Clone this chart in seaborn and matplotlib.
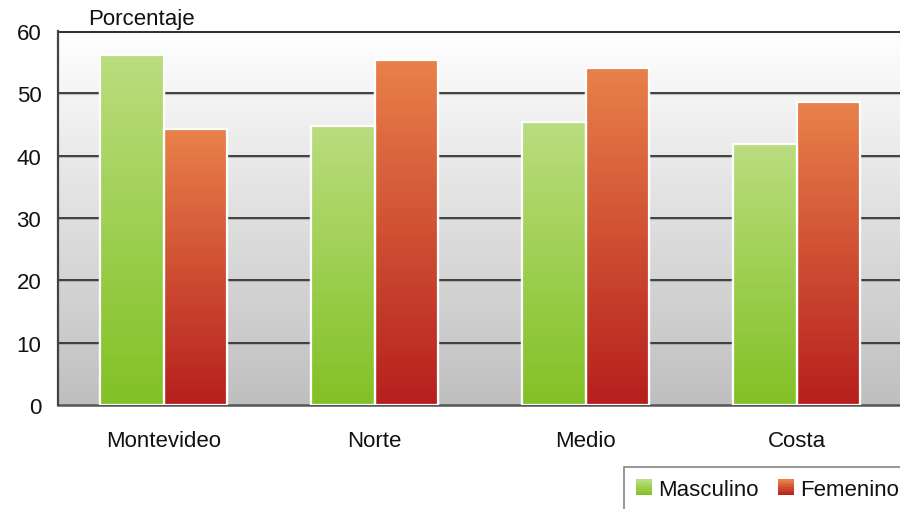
import numpy as np
import pandas as pd
import matplotlib
matplotlib.use("Agg")
import matplotlib.pyplot as plt
from matplotlib.colors import LinearSegmentedColormap, to_rgb
from matplotlib.patches import Rectangle
from matplotlib.legend_handler import HandlerBase
import seaborn as sns

regiones = ["Montevideo", "Norte", "Medio", "Costa"]
masculino = [56.2, 44.8, 45.4, 41.8]
femenino = [44.2, 55.4, 54.1, 48.6]
series = ["Masculino", "Femenino"]
yticks = [0, 10, 20, 30, 40, 50, 60]

# top / bottom colours of each series gradient
grad = {
    "Masculino": ("#badd7e", "#82c125"),
    "Femenino": ("#e9814a", "#b61f1d"),
}

df = pd.DataFrame({
    "region": regiones * 2,
    "sexo": [series[0]] * 4 + [series[1]] * 4,
    "valor": masculino + femenino,
})

sns.set_theme(style="white")
plt.rcParams["font.family"] = ["Liberation Sans", "DejaVu Sans"]

FS = 16

fig = plt.figure(figsize=(9, 5.1), dpi=100)
ax = fig.add_axes([58 / 900, 1 - 406 / 510, 844 / 900, 374 / 510])

sns.barplot(data=df, x="region", y="valor", hue="sexo", hue_order=series,
            order=regiones, width=0.6, gap=0, ax=ax, legend=False,
            palette={k: v[1] for k, v in grad.items()},
            edgecolor="white", linewidth=1.6, zorder=3)

ax.set_xlim(-0.5, 3.5)
ax.set_ylim(0, 60)

# vertical gradient background of the plotting area
bg = np.linspace(1.0, 0.0, 256).reshape(-1, 1)
bg_cmap = LinearSegmentedColormap.from_list("bg", ["#bfbfbf", "#ffffff"])
ax.imshow(bg, cmap=bg_cmap, aspect="auto", extent=(0, 1, 0, 1),
          transform=ax.transAxes, zorder=0, vmin=0, vmax=1, origin="upper")
ax.set_facecolor("none")

# gradient fill for each bar, spanning its own height
n = len(regiones)
for i, patch in enumerate(ax.patches[:2 * n]):
    name = series[i // n]
    top, bottom = grad[name]
    cmap = LinearSegmentedColormap.from_list(name, [bottom, top])
    x0, y0 = patch.get_x(), patch.get_y()
    w, h = patch.get_width(), patch.get_height()
    g = np.linspace(1, 0, 128).reshape(-1, 1)
    im = ax.imshow(g, cmap=cmap, aspect="auto", extent=(x0, x0 + w, y0, y0 + h),
                   zorder=3.5, origin="upper", vmin=0, vmax=1)
    im.set_clip_path(patch)
    ax.add_patch(Rectangle((x0, y0), w, h, facecolor="none",
                           edgecolor="white", linewidth=1.6, zorder=4))

ax.set_xlim(-0.5, 3.5)
ax.set_ylim(0, 60)

# horizontal rules with a faint shadow
for v in yticks[1:-1]:
    ax.axhline(v, color="#333333", linewidth=1.3, zorder=2)
    ax.axhline(v - 0.18, color="#9a9a9a", linewidth=0.8, alpha=0.6, zorder=1.9)
ax.axhline(60, color="#333333", linewidth=2.2, zorder=2)

for s in ["top", "right"]:
    ax.spines[s].set_visible(False)
ax.spines["left"].set_color("#444444")
ax.spines["left"].set_linewidth(1.6)
ax.spines["bottom"].set_color("#555555")
ax.spines["bottom"].set_linewidth(1.8)
ax.spines["bottom"].set_zorder(2)

ax.set_yticks(yticks)
ax.set_yticklabels([str(t) for t in yticks], fontsize=FS, color="#111111")
ax.tick_params(axis="y", length=0, pad=12)
ax.tick_params(axis="x", length=0, pad=18, labelsize=FS, labelcolor="#111111")
ax.set_xlabel("")
ax.set_ylabel("")

fig.text(88 / 900, 1 - 20 / 510, "Porcentaje", fontsize=FS, color="#111111",
         ha="left", va="center")


class GradientHandler(HandlerBase):
    def __init__(self, top, bottom):
        super().__init__()
        self.top, self.bottom = to_rgb(top), to_rgb(bottom)

    def create_artists(self, legend, orig_handle, xdescent, ydescent,
                       width, height, fontsize, trans):
        size = height
        x = -xdescent + (width - size)
        y = -ydescent
        artists = []
        steps = 10
        for k in range(steps):
            f = k / (steps - 1)
            c = tuple(self.bottom[j] * (1 - f) + self.top[j] * f for j in range(3))
            r = Rectangle((x, y + size * k / steps), size, size / steps + 0.3,
                          facecolor=c, edgecolor="none", transform=trans)
            artists.append(r)
        return artists


handles = [Rectangle((0, 0), 1, 1) for _ in series]
hmap = {h: GradientHandler(*grad[s]) for h, s in zip(handles, series)}
leg = fig.legend(handles, series, handler_map=hmap, loc="upper left",
                 bbox_to_anchor=(624 / 900, 1 - 468 / 510), ncol=2,
                 fontsize=FS, frameon=True, fancybox=False,
                 handlelength=0.7, handleheight=0.7, handletextpad=0.27,
                 columnspacing=0.9, borderpad=0.55, borderaxespad=0)
leg.get_frame().set_edgecolor("#666666")
leg.get_frame().set_linewidth(1.2)
for t in leg.get_texts():
    t.set_color("#111111")

fig.savefig("out.png", dpi=100)
